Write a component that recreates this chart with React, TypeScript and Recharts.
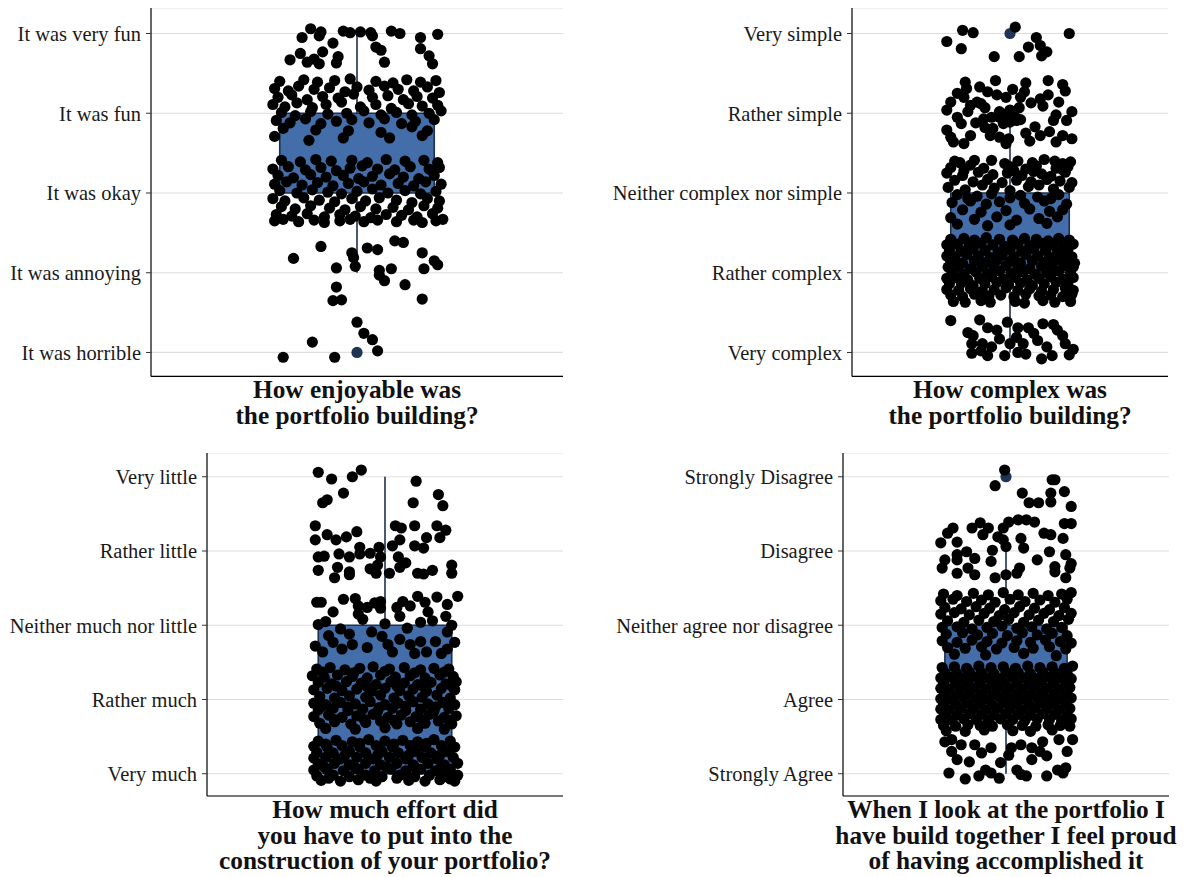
import { ScatterChart, Scatter, XAxis, YAxis, CartesianGrid, ReferenceArea, ReferenceLine } from "recharts"

// Each list holds jittered points for one answer level: x offset, y offset (both in hundredths)
const enjoyLabels = ["It was horrible", "It was annoying", "It was okay", "It was fun", "It was very fun"]
const enjoy1 = [0,38, 4,24, 9,16, 12,2, -26,13, -43,-6, -13,-6]
const enjoy2 = [-21,33, -37,18, -12,6, -3,25, -2,19, -1,8, 6,31, 12,29, 22,40, 27,38, 38,25, 45,15, 47,10, 39,5, 13,3, 13,-3, 16,-10, 20,5, 28,-15, 38,-33, -12,-18, -14,-35, -9,-34]
const enjoy3 = [
  -44,41, -33,39, -24,42, -15,40, -3,41, 6,38, 17,42, 28,40, 39,41, 47,38,
  -49,30, -40,33, -30,29, -21,32, -12,28, -4,31, 3,34, 12,30, 22,29, 31,33, 42,30, 48,32,
  -46,22, -37,19, -27,23, -18,20, -8,22, 1,18, 9,21, 19,24, 27,20, 36,18, 45,22,
  -48,11, -41,14, -32,10, -23,13, -14,9, -5,12, 4,14, 14,10, 24,12, 33,9, 40,14, 49,11,
  -45,3, -35,0, -26,4, -17,1, -9,-1, 0,2, 9,5, 18,0, 28,3, 37,-1, 46,2,
  -49,-7, -42,-10, -31,-6, -22,-9, -13,-11, -3,-7, 5,-10, 13,-6, 23,-9, 32,-12, 41,-7, 48,-10,
  -44,-17, -36,-20, -27,-16, -16,-19, -7,-21, 2,-17, 11,-20, 21,-18, 30,-21, 39,-16, 47,-19,
  -47,-27, -38,-29, -29,-26, -19,-30, -10,-27, -1,-29, 8,-31, 17,-27, 26,-28, 35,-30, 44,-26,
  -48,-35, -43,-33, -34,-36, -25,-34, -19,-37, -10,-35, -4,-33, 4,-36, 12,-34, 23,-36, 33,-34, 38,-37, 46,-35, 50,-33,
]
const enjoy4 = [
  -45,40, -31,42, -23,39, -13,41, -4,43, 11,40, 21,38, 29,42, 37,39, 46,41,
  -48,31, -40,28, -34,34, -25,30, -16,32, -7,27, 0,33, 7,29, 16,34, 24,30, 33,28, 41,33, 48,26,
  -46,20, -38,23, -29,17, -20,21, -11,19, -2,24, 9,20, 18,22, 27,17, 35,21, 44,19,
  -49,11, -42,8, -35,13, -26,7, -18,11, -9,14, 2,8, 11,11, 20,6, 30,12, 38,9, 47,10,
  -44,1, -36,-3, -27,2, -17,-1, -6,0, 4,3, 14,-2, 23,1, 32,-2, 42,0, 49,3,
  -47,-9, -39,-12, -30,-7, -21,-13, -12,-10, -3,-8, 7,-12, 16,-7, 26,-13, 34,-10, 45,-8,
  -43,-19, -24,-21, -5,-22, 14,-24, 32,-17, 41,-22,
  -48,-29, -28,-34, -8,-31, 19,-31, 38,-28,
]
const enjoy5 = [-27,6, -21,2, -32,-5, -22,-3, -8,3, -4,1, 2,2, 8,1, 9,-3, 20,3, 25,0, 37,-5, 47,-1, -14,-12, 11,-17, 14,-21, 16,-36, 37,-19, 42,-28, 44,-38, -39,-33, -33,-25, -29,-36, -25,-32, -20,-23, -22,-38, -11,-29, -12,-37]

const complexLabels = ["Very complex", "Rather complex", "Neither complex nor simple", "Rather simple", "Very simple"]
const complex1 = [-45,40, -23,41, -17,31, -10,28, -2,38, 6,31, 14,31, 25,36, 33,35, -28,21, -21,11, -14,7, -8,17, 0,11, 5,19, 10,11, 21,15, 28,7, 40,21, 42,11, 48,4, -29,-1, -17,-4, -4,-4, 6,0, 24,-8, 32,-4, -29,11, -32,25, 18,24, 36,28, 12,-2, -22,2, 45,-3]
const complex2 = [
  -45,42, -35,43, -27,41, -18,44, -8,42, 2,41, 11,43, 20,42, 29,40, 37,43, 45,41,
  -48,35, -40,36, -31,34, -22,37, -13,35, -4,33, 6,36, 15,34, 24,37, 33,35, 41,33, 48,36,
  -46,28, -37,27, -28,30, -19,28, -9,26, 0,29, 9,27, 18,30, 27,28, 36,26, 44,29,
  -48,21, -42,20, -33,23, -24,21, -15,19, -6,22, 3,20, 12,23, 21,21, 30,19, 39,22, 47,20,
  -45,14, -36,12, -27,15, -18,13, -10,16, 0,14, 8,12, 17,15, 26,13, 35,16, 43,14, 49,12,
  -47,7, -39,8, -30,5, -21,8, -12,6, -3,9, 6,7, 15,5, 24,8, 32,6, 41,9, 48,7,
  -44,0, -35,-2, -26,1, -17,-1, -8,2, 1,-1, 10,1, 19,-2, 28,0, 37,2, 46,-1,
  -48,-7, -41,-6, -32,-9, -23,-7, -14,-5, -5,-8, 4,-6, 13,-9, 22,-7, 31,-5, 40,-8, 48,-6,
  -46,-14, -37,-13, -28,-16, -19,-14, -10,-12, -1,-15, 8,-13, 17,-16, 26,-14, 35,-12, 44,-15,
  -48,-21, -39,-22, -30,-20, -21,-23, -12,-21, -3,-19, 6,-22, 15,-20, 24,-23, 33,-21, 42,-19, 48,-22,
  -45,-28, -36,-30, -27,-27, -16,-29, -7,-28, 3,-30, 12,-27, 22,-29, 31,-28, 40,-30, 47,-27,
  -43,-36, -34,-37, -22,-35, -15,-37, 4,-36, 11,-38, 25,-35, 34,-37, 46,-36,
]
const complex3 = [
  -38,38, -14,41, 6,40, 26,42, 40,37, -42,40, -27,41, -4,37, 17,38, 34,40, 46,39,
  -45,32, -30,35, -20,31, 0,33, 12,30, 20,34, 35,31, 44,33, -35,28, 3,28, 18,27, 40,29,
  -48,25, -36,22, -24,26, -13,23, -2,25, 9,22, 24,24, 31,21, 42,26,
  -42,16, -28,14, -17,17, -6,13, 5,16, 16,14, 28,17, 38,15, 47,13, -21,10, 22,10,
  -47,7, -34,4, -12,6, 0,3, 14,8, 33,5, 45,7,
  -40,-2, -25,-4, -14,-1, 8,-3, 21,-5, 37,-2, -32,-7, 0,-6, 31,-7,
  -44,-12, -30,-10, -18,-14, -8,-11, 11,-13, 26,-10, 43,-14,
  -36,-21, -22,-24, -3,-22, 15,-20, 30,-23, 40,-21,
  -45,-31, -27,-33, -10,-30, 5,-34, 22,-32, 36,-30,
  -40,-39, -17,-41, 0,-40, 28,-38,
]
const complex4 = [-34,39, -11,41, 12,38, 29,41, -40,25, -33,31, -23,33, -17,27, -10,23, -3,20, 8,20, 11,27, 23,18, 29,23, 42,28, -45,14, -35,20, -30,10, -25,14, -19,7, -8,2, 0,4, 7,7, 25,9, 37,14, -48,4, -32,2, -20,-7, -14,-5, -8,-5, -3,-1, 4,-5, 8,-8, 47,2, -37,-13, -48,-21, -19,-18, -13,-19, -5,-13, 0,-11, 5,-9, 19,-17, 33,-9, 43,-9, -45,-30, -30,-28, -15,-28, -8,-30, -1,-32, 23,-28, 30,-23, 40,-28, 47,-32, -43,-36, -35,-38, -3,-38, 15,-35, 35,-36, -22,12, 16,13, 35,-2, -40,-5, 12,-25, -26,-12, 40,36, 2,30]
const complex5 = [-36,4, -28,1, -48,-10, -37,-19, 4,8, 20,-5, 45,0, 23,-15, 14,-17, 28,-23, 24,-28, 7,-29, -12,-29]

const effortLabels = ["Very much", "Rather much", "Neither much nor little", "Rather little", "Very little"]
const effort1 = [
  -45,44, -33,45, -22,43, -11,46, 0,44, 12,45, 22,43, 33,46, 44,44, -40,40, -17,41, 6,40, 28,41,
  -48,37, -39,36, -29,38, -17,36, -6,38, 5,36, 17,38, 27,36, 38,38, 47,36,
  -46,29, -35,28, -24,30, -13,28, -2,30, 9,28, 21,30, 31,28, 42,30, -27,25, -5,25, 16,25, 37,25,
  -48,21, -40,22, -30,20, -19,22, -8,20, 3,22, 14,20, 25,22, 35,20, 46,22,
  -45,13, -34,14, -24,12, -13,14, -3,12, 8,14, 19,12, 29,14, 40,12, 49,14, -41,9, -20,8, 1,9, 20,9, 38,9,
  -48,5, -39,6, -28,4, -18,6, -7,4, 4,6, 14,4, 24,6, 34,4, 44,6,
  -46,-3, -35,-2, -24,-4, -13,-2, -2,-4, 10,-2, 20,-4, 30,-2, 40,-4, 49,-2, -38,-6, -10,-6, 8,-6, 44,-7,
  -43,-9, -30,-10, -18,-8, -6,-10, 16,-9, 27,-10, 37,-8, 47,-10,
]
const effort2 = [
  -46,41, -37,43, -27,40, -17,42, -8,44, 3,41, 13,43, 24,40, 33,42, 43,41,
  -42,37, -21,36, 0,38, 20,36, 40,37,
  -49,32, -41,30, -32,33, -22,31, -12,29, -3,33, 7,30, 17,32, 27,29, 37,33, 46,31,
  -45,23, -36,21, -26,24, -16,22, -6,20, 4,24, 13,22, 22,20, 31,23, 41,21, 48,24,
  -33,18, -12,17, 8,18, 26,17, 45,18,
  -48,13, -39,15, -29,12, -19,14, -9,11, 0,15, 10,12, 19,14, 28,11, 38,15, 47,13,
  -44,4, -34,2, -24,5, -13,3, -3,6, 6,2, 16,5, 25,3, 35,6, 44,2,
  -48,-5, -40,-7, -30,-4, -20,-6, -10,-3, 0,-7, 9,-5, 19,-3, 29,-6, 39,-4, 47,-7,
  -43,-9, -25,-10, -4,-11, 14,-9, 34,-10,
  -45,-14, -35,-12, -25,-15, -15,-13, -5,-16, 5,-12, 14,-15, 24,-13, 33,-16, 43,-12,
  -48,-23, -38,-21, -29,-24, -19,-22, -8,-20, 2,-24, 11,-21, 21,-23, 30,-20, 40,-24, 48,-22,
  -34,-27, -14,-27, 6,-28, 25,-27, 43,-28,
  -44,-32, -34,-30, -23,-33, -13,-31, -3,-29, 8,-33, 17,-30, 27,-32, 36,-29, 45,-33,
  -40,-39, -20,-40, 0,-38, 22,-39, 40,-40,
]
const effort3 = [-46,31, -43,31, -35,18, -28,35, -20,36, -18,26, -12,24, -7,30, -3,23, -3,32, 8,24, 12,32, 17,26, 22,39, 27,31, 29,18, 35,38, 42,28, 49,39, 10,12, 24,4, 41,12, -45,1, -47,-28, -35,-23, -29,-32, -22,-26, -2,-15, 2,-26, 10,-19, 17,-26, 24,-22, 28,-36, 34,-22, 42,-32, 47,-23, -9,-9, 42,-9, -40,5, -30,-5, -15,8, 0,2, 15,-4, 32,6, -38,-14, -24,-12, 5,-36, -12,-30, 20,-38, 38,-38, -42,-36, -18,15, 45,0]
const effort4 = [-47,34, -47,15, -39,22, -33,15, -26,19, -19,26, -17,5, -10,-3, -4,5, -3,-8, -5,-19, -10,-24, -6,-30, 3,-30, 5,7, 7,34, 11,31, 10,15, 20,34, 20,7, 26,4, 28,18, 35,34, 41,28, 37,18, -45,-8, -41,-7, -31,-4, -24,-8, -17,-4, -45,-26, -32,-22, -24,-28, -34,-36, -24,-32, 9,-8, 10,-22, 14,-16, 22,-30, 26,-31, 32,-26, 45,-19, 45,-30]
const effort5 = [-45,6, -36,-3, -22,0, -16,9, 21,-6, -28,-22, -42,-35, -39,-31, 36,-24, 19,-35, 39,-39]

const proudLabels = ["Strongly Agree", "Agree", "Neither agree nor disagree", "Disagree", "Strongly Disagree"]
const proud1 = [-45,43, -40,46, -33,39, -23,39, -11,35, 4,35, 11,39, 19,35, 27,43, 39,46, 49,46, -36,19, -27,16, -15,5, -4,15, 8,5, 19,19, 30,24, 38,5, 44,8, -42,1, -30,-7, -20,-3, -11,1, 11,-1, 15,-3, 30,-3, 42,1, -40,30, -18,28, 2,25, 25,30, -5,-6, 45,30]
const proud2 = [
  -47,43, -38,44, -29,42, -20,45, -11,43, -2,44, 7,42, 16,45, 25,43, 34,44, 43,42, 49,45,
  -45,36, -36,35, -27,37, -18,36, -9,35, 0,37, 9,36, 18,35, 27,37, 36,36, 45,35,
  -48,29, -40,30, -31,28, -22,30, -13,29, -4,28, 5,30, 14,29, 23,28, 32,30, 41,29, 48,28,
  -46,22, -37,21, -28,23, -19,22, -10,21, -1,23, 8,22, 17,21, 26,23, 35,22, 44,21,
  -48,15, -42,14, -33,16, -24,15, -15,14, -6,16, 3,15, 12,14, 21,16, 30,15, 39,14, 47,16,
  -45,8, -36,7, -27,9, -18,8, -9,7, 0,9, 9,8, 18,7, 27,9, 36,8, 45,7,
  -48,1, -40,0, -31,2, -22,1, -13,0, -4,2, 5,1, 14,0, 23,2, 32,1, 41,0, 48,2,
  -46,-6, -37,-7, -28,-5, -19,-6, -10,-7, -1,-5, 8,-6, 17,-7, 26,-5, 35,-6, 44,-7,
  -48,-13, -42,-14, -33,-12, -24,-13, -15,-14, -6,-12, 3,-13, 12,-14, 21,-12, 30,-13, 39,-14, 47,-12,
  -45,-20, -36,-21, -27,-19, -18,-20, -9,-21, 0,-19, 9,-20, 18,-21, 27,-19, 36,-20, 45,-21,
  -48,-27, -40,-28, -31,-26, -22,-27, -13,-28, -4,-26, 5,-27, 14,-28, 23,-26, 32,-27, 41,-28, 48,-26,
  -46,-35, -37,-36, -28,-34, -19,-35, -10,-36, 1,-34, 12,-35, 22,-36, 31,-34, 40,-35, 47,-36,
  -44,-42, -30,-43, -16,-41, 5,-42, 18,-43, 34,-41,
]
const proud3 = [
  -46,42, -36,40, -24,43, -13,41, -2,44, 9,41, 20,43, 31,40, 41,42, 48,44,
  -48,33, -39,35, -29,32, -18,34, -8,31, 3,35, 14,32, 25,34, 36,31, 45,35,
  -45,24, -33,22, -22,25, -12,23, -1,21, 10,25, 21,23, 32,21, 43,24,
  -48,15, -38,17, -27,14, -16,16, -5,13, 6,17, 17,14, 28,16, 39,13, 48,16,
  -43,6, -31,4, -20,7, -9,5, 2,8, 13,4, 24,7, 35,5, 46,8,
  -47,-3, -36,-2, -25,-5, -14,-3, -3,-1, 8,-4, 19,-2, 30,-5, 41,-3,
  -44,-12, -32,-10, -21,-13, -10,-11, 1,-14, 12,-10, 23,-13, 34,-11, 45,-14,
  -47,-21, -36,-23, -25,-20, -14,-22, -3,-24, 8,-21, 18,-23, 29,-20, 40,-22, 48,-24,
  -43,-30, -30,-31, -18,-29, -7,-32, 6,-30, 20,-31, 32,-29, 44,-32,
  -38,-39, -15,-40, 13,-38, 37,-41,
]
const proud4 = [-39,31, -43,24, -48,11, -36,12, -25,31, -19,38, -13,31, -2,31, 2,39, 9,42, 15,42, 21,39, -17,22, -6,19, -2,15, 11,17, 28,24, 33,22, 42,17, 43,37, 48,37, -36,-5, -29,-1, -23,-10, -10,1, 0,6, 13,4, 32,-1, 44,-5, -45,-12, -36,-12, 23,-12, 48,-17, -47,-23, -36,-30, -28,-23, -23,-32, -11,-14, -8,-36, 0,-32, 8,-30, 10,-23, 36,-21, 36,-28, 47,-23, 44,-36]
const proud5 = [-1,9, -8,-12, 34,-4, 36,-4, 12,-22, 17,-35, 24,-35, 33,-22, 33,-34, 43,-20, 48,-40]

function toPoints(groups: number[][]) {
  const out: { x: number; y: number }[] = []
  groups.forEach((offs, i) => {
    for (let k = 0; k < offs.length; k += 2) out.push({ x: offs[k] / 100, y: i + 1 + offs[k + 1] / 100 })
  })
  return out
}

const serif = "'Liberation Serif', 'Times New Roman', serif"
const boxFill = "#436ea9"
const boxLine = "#1e3050"

const Dot = (props: any) => <circle cx={props.cx} cy={props.cy} r={5.6} fill={props.fill} />

type PanelProps = {
  axisX: number
  top: number
  axisWidth: number
  plotWidth: number
  plotHeight: number
  labels: string[]
  groups: number[][]
  box: [number, number]
  whisker: [number, number]
  outliers: number[]
  title: string[]
  titleTop: number
}

function Panel(p: PanelProps) {
  const points = toPoints(p.groups)
  const outlierData = p.outliers.map((v) => ({ x: 0, y: v }))
  const center = p.axisX + p.plotWidth / 2
  return (
    <>
      <div style={{ position: "absolute", left: p.axisX - p.axisWidth, top: p.top }}>
        <ScatterChart width={p.axisWidth + p.plotWidth} height={p.plotHeight + 2} margin={{ top: 0, right: 0, bottom: 0, left: 0 }}>
          <CartesianGrid vertical={false} stroke="#dedede" strokeWidth={1.2} />
          <XAxis type="number" dataKey="x" domain={[-1.2, 1.2]} tick={false} tickLine={false} axisLine={{ stroke: "#000", strokeWidth: 1.2 }} height={2} />
          <YAxis
            type="number"
            dataKey="y"
            domain={[0.7, 5.32]}
            ticks={[1, 2, 3, 4, 5]}
            interval={0}
            tickFormatter={(v: number) => p.labels[v - 1]}
            width={p.axisWidth}
            tickSize={5}
            tickMargin={5}
            tick={{ fill: "#1a1a1a", fontSize: 20.5, fontFamily: serif }}
            tickLine={{ stroke: "#333" }}
            axisLine={{ stroke: "#000", strokeWidth: 1.2 }}
          />
          {p.whisker[0] < p.box[0] && (
            <ReferenceLine segment={[{ x: 0, y: p.whisker[0] }, { x: 0, y: p.box[0] }]} stroke={boxLine} strokeWidth={1.6} />
          )}
          {p.whisker[1] > p.box[1] && (
            <ReferenceLine segment={[{ x: 0, y: p.box[1] }, { x: 0, y: p.whisker[1] }]} stroke={boxLine} strokeWidth={1.6} />
          )}
          <ReferenceArea x1={-0.45} x2={0.45} y1={p.box[0]} y2={p.box[1]} fill={boxFill} fillOpacity={1} stroke={boxLine} strokeWidth={1.6} />
          <Scatter data={outlierData} fill="#1d3454" shape={Dot} isAnimationActive={false} />
          <Scatter data={points} fill="#000" shape={Dot} isAnimationActive={false} />
        </ScatterChart>
      </div>
      <div
        style={{
          position: "absolute",
          left: center - 250,
          width: 500,
          top: p.titleTop,
          textAlign: "center",
          fontFamily: serif,
          fontWeight: "bold",
          fontSize: 25.3,
          lineHeight: "25.5px",
          color: "#111",
          whiteSpace: "nowrap",
        }}
      >
        {p.title.map((t) => (
          <div key={t} style={{ height: 25.5, overflow: "visible" }}>{t}</div>
        ))}
      </div>
    </>
  )
}

export default function App() {
  return (
    <div style={{ position: "absolute", left: 0, top: 0, width: 1189, height: 877, background: "#fff", overflow: "hidden" }}>
      <Panel
        axisX={151}
        top={7.5}
        axisWidth={151}
        plotWidth={412}
        plotHeight={368.4}
        labels={enjoyLabels}
        groups={[enjoy1, enjoy2, enjoy3, enjoy4, enjoy5]}
        box={[3, 4]}
        whisker={[2, 5]}
        outliers={[1]}
        title={["How enjoyable was", "the portfolio building?"]}
        titleTop={377}
      />
      <Panel
        axisX={852}
        top={7.5}
        axisWidth={260}
        plotWidth={316}
        plotHeight={368.4}
        labels={complexLabels}
        groups={[complex1, complex2, complex3, complex4, complex5]}
        box={[2, 3]}
        whisker={[1, 4]}
        outliers={[5]}
        title={["How complex was", "the portfolio building?"]}
        titleTop={377}
      />
      <Panel
        axisX={207}
        top={453.2}
        axisWidth={207}
        plotWidth={356}
        plotHeight={343}
        labels={effortLabels}
        groups={[effort1, effort2, effort3, effort4, effort5]}
        box={[1, 3]}
        whisker={[1, 5]}
        outliers={[]}
        title={["How much effort did", "you have to put into the", "construction of your portfolio?"]}
        titleTop={797}
      />
      <Panel
        axisX={843}
        top={453.2}
        axisWidth={251}
        plotWidth={326}
        plotHeight={343}
        labels={proudLabels}
        groups={[proud1, proud2, proud3, proud4, proud5]}
        box={[2, 3]}
        whisker={[1, 4]}
        outliers={[5]}
        title={["When I look at the portfolio I", "have build together I feel proud", "of having accomplished it"]}
        titleTop={797}
      />
    </div>
  )
}
